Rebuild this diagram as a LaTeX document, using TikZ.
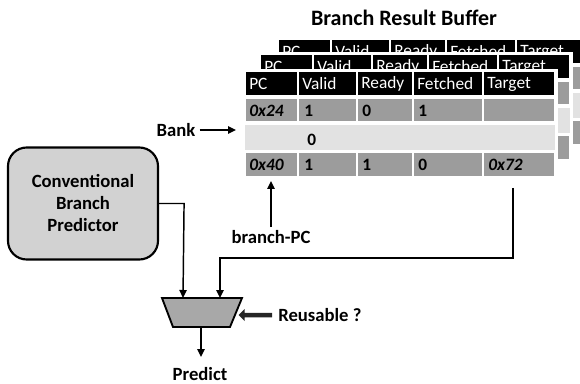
\documentclass[tikz,border=0pt]{standalone}
\usepackage{fontspec}
\setmainfont{Carlito}
\usetikzlibrary{arrows.meta,shapes.geometric,shapes.arrows}
\definecolor{cellgray}{HTML}{9C9C9C}
\definecolor{bandgray}{HTML}{E2E2E2}
\definecolor{predgray}{HTML}{D2D2D2}
\definecolor{muxgray}{HTML}{A8A8A8}
\tikzset{
  arr/.style={line width=1.1pt,-{Triangle[length=6pt,width=5.5pt]}},
  wire/.style={line width=1.1pt},
  lbl/.style={font=\fontsize{14}{16}\selectfont\bfseries,inner sep=0pt},
  hdr/.style={font=\fontsize{13}{15}\selectfont,text=white,anchor=west,inner sep=0pt},
  dat/.style={font=\fontsize{13}{15}\selectfont\bfseries,anchor=west,inner sep=0pt},
  hcell/.style={fill=black},
  dcell/.style={fill=cellgray},
}
\newcommand\brbtable[3]{%
\begin{scope}[shift={(#1,#2)}]
  \fill[white] (243,69) rectangle (558,179);
  \foreach \a/\b/\t [count=\i] in {245/298/PC,298/357/Valid,357/413/Ready,413/483/Fetched,483/555/Target}{
    \fill[hcell] (\a+1,72) rectangle (\b-1,95);
    \node[hdr] (h#3\i) at (\a+4,84) {\t};
    \fill[dcell] (\a+1,99) rectangle (\b-1,121);
    \fill[dcell] (\a+1,153) rectangle (\b-1,176);
  }
  \fill[bandgray] (245,125) rectangle (555,150);
\end{scope}}
\begin{document}
\begin{tikzpicture}[x=0.75pt,y=-0.75pt]
\useasboundingbox (0,0) rectangle (580,384);
\node[lbl,font=\fontsize{16.5}{18}\selectfont\bfseries] (title) at (404,18) {Branch Result Buffer};
\begin{scope}
  \clip (0,0) rectangle (580,384);
  \brbtable{33}{-32}{c}
  \brbtable{15}{-17}{b}
  \brbtable{0}{0}{a}
\end{scope}
% front table data
\node[dat] (d11) at (249,110.5) {\itshape 0x24};
\node[dat] (d12) at (304,110.5) {1};
\node[dat] (d13) at (362,110.5) {0};
\node[dat] (d14) at (418,110.5) {1};
\node[dat] (d22) at (307,140) {0};
\node[dat] (d31) at (249,165) {\itshape 0x40};
\node[dat] (d32) at (304,165) {1};
\node[dat] (d33) at (362,165) {1};
\node[dat] (d34) at (418,165) {0};
\node[dat] (d35) at (488,165) {\itshape 0x72};
% labels
\node[lbl] (bank) at (176,130) {Bank};
\coordinate (banktip) at (236,130);
\draw[arr] (bank.east) ++(4,0) -- (banktip);
\node[lbl] (bpc) at (271,237) {branch-PC};
\coordinate (bpctip) at (271,181);
\draw[arr] (bpc.north) ++(0,-3) -- (bpctip);
% predictor
\node[draw,line width=1.6pt,rounded corners=14pt,fill=predgray,minimum width=112.5pt,minimum height=84pt,
      align=center,font=\fontsize{14}{16.5}\selectfont\bfseries] (pred) at (83,203.5)
      {Conventional\\Branch\\Predictor};
% mux
\coordinate (mtl) at (162,298);
\coordinate (mtr) at (242,298);
\coordinate (mbr) at (230,327);
\coordinate (mbl) at (173,327);
\draw[line width=1.4pt,fill=muxgray] (mtl) -- (mtr) -- (mbr) -- (mbl) -- cycle;
\coordinate (in1) at (183,298);
\coordinate (in2) at (220,298);
\coordinate (muxout) at (201,327);
\coordinate (tgtout) at (513,188);
\draw[wire,-{Triangle[length=6pt,width=5.5pt]}] (pred.east) -- ++(25,0) -- (in1);
\draw[wire,-{Triangle[length=6pt,width=5.5pt]}] (tgtout) -- (513,258) -- (220,258) -- (in2);
\coordinate (out) at (201,357);
\draw[arr] (muxout) -- (out);
\node[lbl] (predict) at (200,374) {Predict};
\node[lbl,anchor=west] (reuse) at (278,315) {Reusable ?};
\node[single arrow,fill=black!85,shape border rotate=180,minimum height=25pt,minimum width=9pt,
      single arrow head extend=2pt,inner sep=1pt] (rarrow) at (256.5,315) {};
\end{tikzpicture}
\end{document}
